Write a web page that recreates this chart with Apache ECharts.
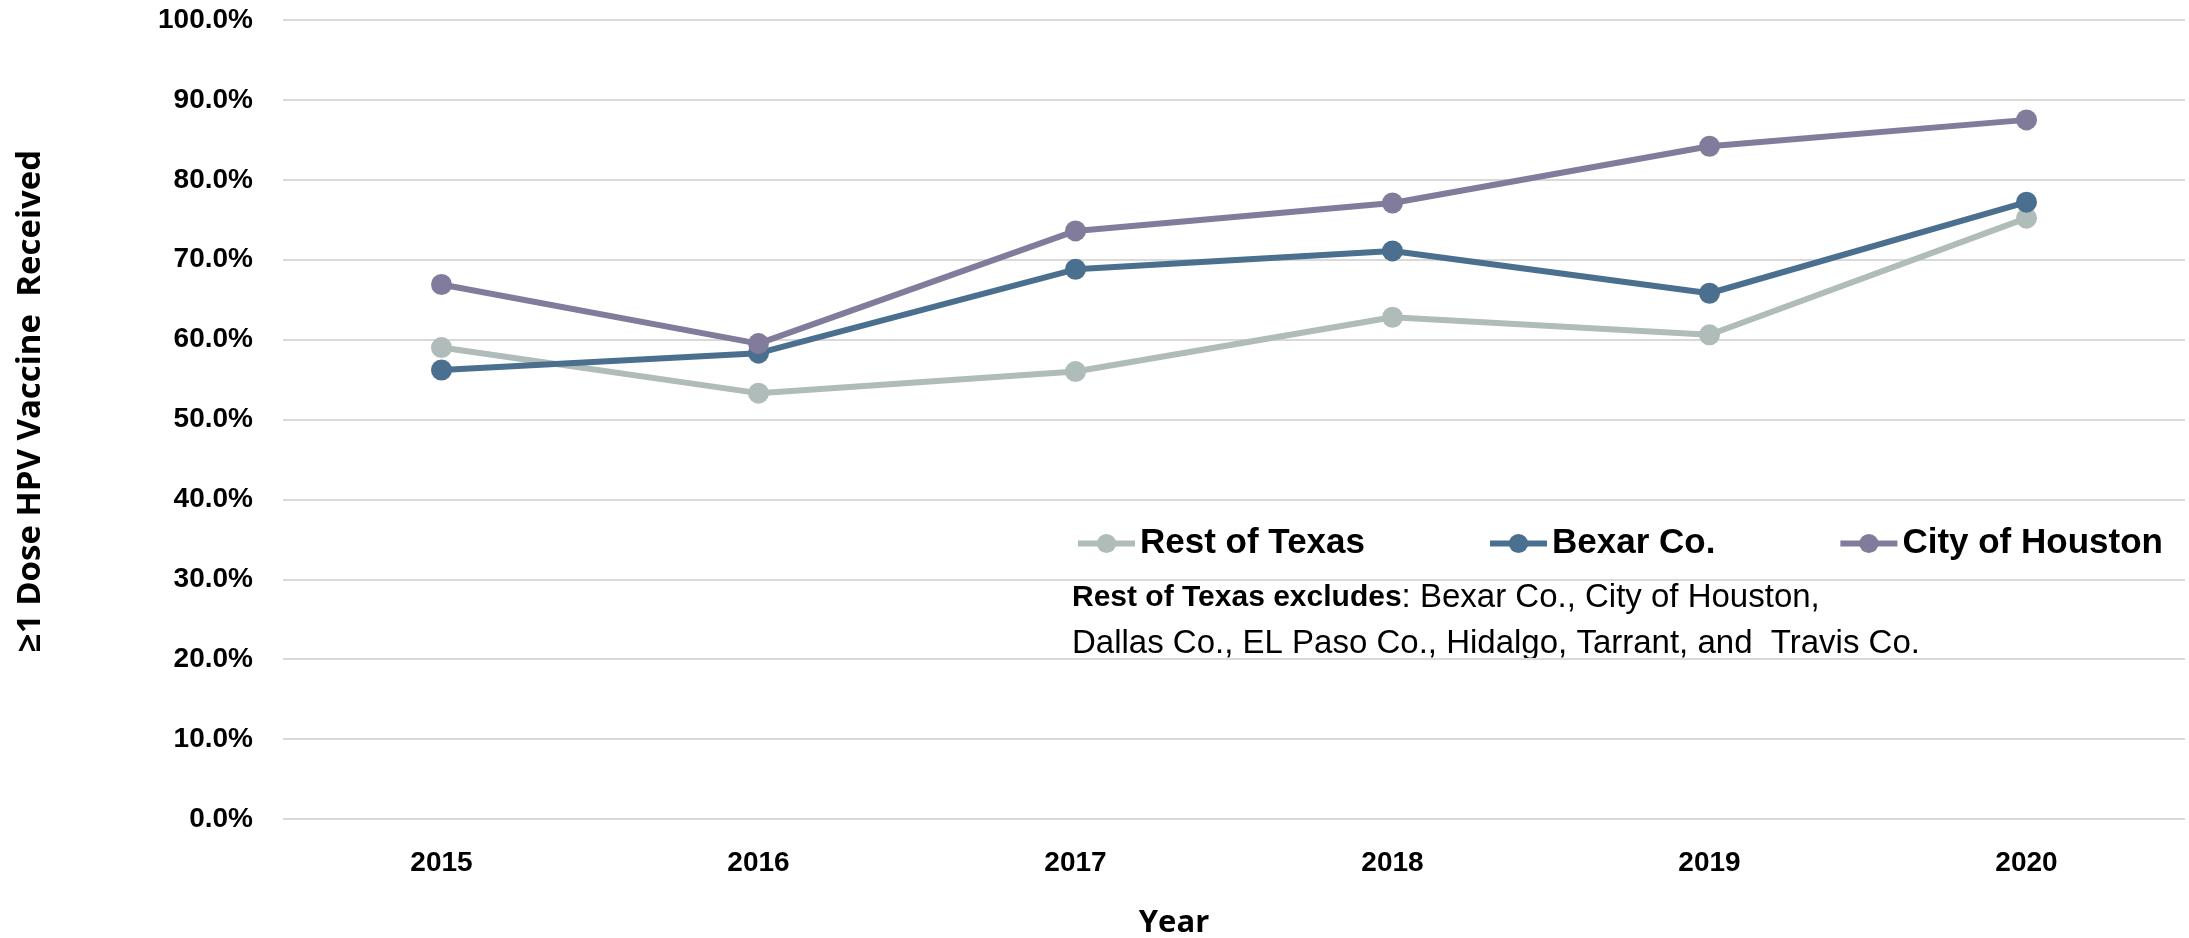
<!DOCTYPE html>
<html>
<head>
<meta charset="utf-8">
<style>
  html, body { margin: 0; padding: 0; background: #fff; }
  #chart { width: 2189px; height: 938px; }
</style>
<script src="https://cdn.jsdelivr.net/npm/echarts@6/dist/echarts.min.js"></script>
</head>
<body>
<div id="chart"></div>
<script>
const years = ['2015', '2016', '2017', '2018', '2019', '2020']
const restOfTexas = [59.0, 53.3, 56.0, 62.8, 60.6, 75.2]
const bexarCo = [56.2, 58.3, 68.8, 71.1, 65.8, 77.2]
const cityOfHouston = [66.9, 59.5, 73.6, 77.1, 84.2, 87.5]
const seriesNames = ['Rest of Texas', 'Bexar Co.', 'City of Houston']

const chart = echarts.init(document.getElementById('chart'))

// one line series per area
function lineSeries(name, data, color) {
  return {
    name: name,
    type: 'line',
    data: data,
    symbol: 'circle',
    symbolSize: 21,
    lineStyle: { width: 6, color: color },
    itemStyle: { color: color },
    animation: false
  }
}

const option = {
  backgroundColor: '#fff',
  textStyle: { fontFamily: 'Liberation Sans, Arial, sans-serif' },
  grid: { left: 283, right: 4, top: 20, bottom: 119, outerBoundsMode: 'none' },
  legend: {
    data: seriesNames,
    left: 1070,
    top: 521,
    itemWidth: 57,
    itemHeight: 24,
    itemGap: 122,
    lineStyle: { width: 6 },
    textStyle: { fontSize: 35, fontWeight: 'bold', color: '#000' }
  },
  xAxis: {
    type: 'category',
    data: years,
    axisLine: { show: false },
    axisTick: { show: false },
    axisLabel: { fontSize: 28, fontWeight: 'bold', color: '#000', margin: 30 },
    name: 'Year',
    nameLocation: 'middle',
    nameGap: 89,
    nameTextStyle: {
      fontFamily: 'Open Sans',
      fontSize: 31,
      fontWeight: 'bold',
      color: '#000',
      padding: [0, 120, 0, 0]
    }
  },
  yAxis: {
    type: 'value',
    min: 0,
    max: 100,
    interval: 10,
    axisLabel: {
      fontSize: 28,
      fontWeight: 'bold',
      color: '#000',
      margin: 30,
      formatter: v => v.toFixed(1) + '%'
    },
    splitLine: { lineStyle: { color: '#D9D9D9', width: 2 } }
  },
  graphic: [
    {
      type: 'text',
      x: 31,
      y: 401,
      rotation: Math.PI / 2,
      style: {
        text: '≥1 Dose HPV Vaccine  Received',
        font: 'bold 33px Open Sans',
        fill: '#000',
        align: 'center',
        verticalAlign: 'middle'
      }
    },
    {
      type: 'text',
      left: 1072,
      top: 575,
      style: {
        text: '{b|Rest of Texas excludes}: Bexar Co., City of Houston,\nDallas Co., EL Paso Co., Hidalgo, Tarrant, and  Travis Co.',
        font: '33px Liberation Sans',
        fill: '#000',
        lineHeight: 46,
        rich: {
          b: { fontWeight: 'bold', fontSize: 30, fontFamily: 'Liberation Sans', fill: '#000', lineHeight: 46 }
        }
      }
    }
  ],
  series: [
    lineSeries(seriesNames[0], restOfTexas, '#B0BCBA'),
    lineSeries(seriesNames[1], bexarCo, '#4A6F8F'),
    lineSeries(seriesNames[2], cityOfHouston, '#817B9C')
  ]
}

chart.setOption(option)
</script>
</body>
</html>
